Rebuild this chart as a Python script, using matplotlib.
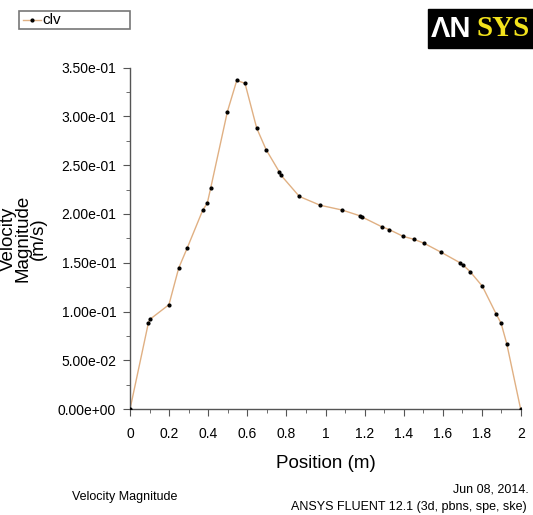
import numpy as np
import matplotlib.pyplot as plt
from matplotlib.ticker import MultipleLocator, FormatStrFormatter

plt.rcParams['font.family'] = ['Liberation Sans', 'DejaVu Sans']

# clv line data: position (m) and velocity magnitude (m/s)
position = [0.0, 0.094, 0.102, 0.199, 0.249, 0.293, 0.372, 0.395, 0.413, 0.498,
            0.546, 0.588, 0.648, 0.696, 0.764, 0.771, 0.866, 0.972, 1.086, 1.178,
            1.186, 1.287, 1.326, 1.398, 1.453, 1.504, 1.589, 1.688, 1.702, 1.739,
            1.802, 1.874, 1.898, 1.927, 1.998]
velocity = [0.0, 0.0885, 0.092, 0.107, 0.1446, 0.1654, 0.204, 0.211, 0.227, 0.305,
            0.337, 0.334, 0.288, 0.266, 0.243, 0.240, 0.218, 0.209, 0.204, 0.198,
            0.197, 0.187, 0.184, 0.177, 0.174, 0.170, 0.161, 0.150, 0.148, 0.141,
            0.126, 0.097, 0.088, 0.067, 0.0]

fig = plt.figure(figsize=(5.33, 5.15), dpi=100)
ax = fig.add_axes([0.244, 0.2058, 0.7335, 0.6627])

line_col = '#e0b083'
ax.plot(position, velocity, color=line_col, lw=1.0, zorder=2)
ax.plot(position, velocity, ls='none', marker='o', ms=2.0, color='black', zorder=3)

ax.set_xlim(0, 2)
ax.set_ylim(0, 0.35)
for s in ['top', 'right']:
    ax.spines[s].set_visible(False)
for s in ['left', 'bottom']:
    ax.spines[s].set_color('#555555')
    ax.spines[s].set_linewidth(1.0)

ax.xaxis.set_major_locator(MultipleLocator(0.2))
ax.xaxis.set_minor_locator(MultipleLocator(0.1))
ax.yaxis.set_major_locator(MultipleLocator(0.05))
ax.yaxis.set_minor_locator(MultipleLocator(0.025))
ax.yaxis.set_major_formatter(FormatStrFormatter('%.2e'))
ax.xaxis.set_major_formatter(plt.FuncFormatter(lambda v, p: ('%g' % round(v, 1))))
ax.tick_params(which='major', length=5, color='#555555', labelsize=10, pad=5)
ax.tick_params(which='minor', length=3, color='#555555')
ax.tick_params(axis='x', pad=8)

ax.set_xlabel('Position (m)', fontsize=13.5, labelpad=10)
ax.set_ylabel('Velocity\nMagnitude\n(m/s)', fontsize=13.5, linespacing=0.85, labelpad=8)

# legend box
fig.patches.append(plt.Rectangle((19 / 533, 1 - 29 / 515), 111 / 533, 18 / 515,
                                 transform=fig.transFigure, fill=False,
                                 edgecolor='#777777', lw=1.2))
fig.lines.append(plt.Line2D([23 / 533, 41 / 533], [1 - 20 / 515] * 2,
                            transform=fig.transFigure, color=line_col, lw=1.0))
fig.lines.append(plt.Line2D([32 / 533], [1 - 20 / 515], transform=fig.transFigure,
                            marker='o', ms=2, color='black'))
fig.text(42 / 533, 1 - 20 / 515, 'clv', fontsize=11, va='center', ha='left')

# logo
fig.patches.append(plt.Rectangle((428 / 533, 1 - 48 / 515), 105 / 533, 39 / 515,
                                 transform=fig.transFigure, color='black'))
fig.text(431 / 533, 1 - 29 / 515, 'ΛN', fontsize=21, fontweight='bold',
         color='white', va='center', ha='left',
         family=['Liberation Sans Narrow', 'Liberation Sans'])
fig.text(477 / 533, 1 - 29 / 515, 'SYS', fontsize=21, fontweight='bold',
         color='#f2e21c', va='center', ha='left', family='Liberation Serif')

fig.text(125 / 533, 1 - 497 / 515, 'Velocity Magnitude', fontsize=9, ha='center', va='center')
fig.text(529 / 533, 1 - 489 / 515, 'Jun 08, 2014.', fontsize=9, ha='right', va='center')
fig.text(527 / 533, 1 - 507 / 515, 'ANSYS FLUENT 12.1 (3d, pbns, spe, ske)', fontsize=9,
         ha='right', va='center')

fig.savefig('out.png', dpi=100, facecolor='white')
